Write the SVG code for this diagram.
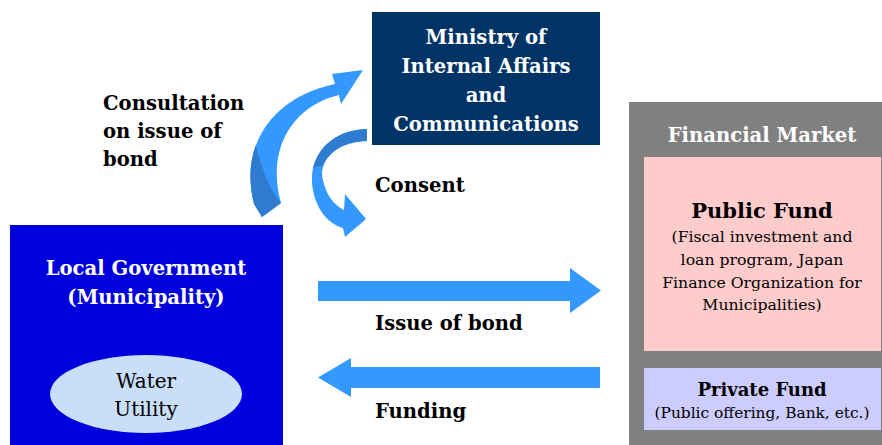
<svg xmlns="http://www.w3.org/2000/svg" width="882" height="445" viewBox="0 0 882 445">
<style>
text{font-family:"DejaVu Serif","Liberation Serif",serif;}
.b{font-weight:bold;font-size:19.6px;}
.w{fill:#ffffff;}
.k{fill:#000000;}
.c{text-anchor:middle;}
.r{font-size:15.7px;}
.arrow{fill:#3399ff;}
.dark{fill:#2e7bd0;}
</style>
<rect width="882" height="445" fill="#ffffff"/>
<g id="ministry">
<rect x="372" y="12" width="228" height="133" fill="#003366"/>
<text class="b w c" x="486" y="44">Ministry of</text>
<text class="b w c" x="486" y="73">Internal Affairs</text>
<text class="b w c" x="486" y="102">and</text>
<text class="b w c" x="486" y="131">Communications</text>
</g>
<g id="local-government">
<rect x="10" y="225" width="273" height="220" fill="#0000dd"/>
<text class="b w c" x="146" y="275">Local Government</text>
<text class="b w c" x="146" y="304">(Municipality)</text>
</g>
<g id="water-utility">
<ellipse cx="146" cy="394" rx="96" ry="39" fill="#c9def9"/>
<text class="k c" x="146" y="388" font-size="20">Water</text>
<text class="k c" x="146" y="416" font-size="20">Utility</text>
</g>
<g id="financial-market">
<rect x="629" y="102" width="253" height="343" fill="#808080"/>
<text class="b w c" x="762" y="142">Financial Market</text>
</g>
<g id="public-fund">
<rect x="644" y="157" width="237" height="194" fill="#ffcccc"/>
<text class="k c" x="762" y="218" font-size="21" font-weight="bold">Public Fund</text>
<text class="k c r" x="762" y="242">(Fiscal investment and</text>
<text class="k c r" x="762" y="265">loan program, Japan</text>
<text class="k c r" x="762" y="288">Finance Organization for</text>
<text class="k c r" x="762" y="310">Municipalities)</text>
</g>
<g id="private-fund">
<rect x="644" y="368" width="237" height="62" fill="#ccccff"/>
<text class="k c" x="762" y="396" font-size="18" font-weight="bold">Private Fund</text>
<text class="k c" x="762" y="418" font-size="15.4">(Public offering, Bank, etc.)</text>
</g>
<g id="connectors">
<path class="arrow" d="M262,217 L254,204 C240,150 268,98 335,84 L332,74 L363,70 L341,104 L339,95 C292,106 266,150 281,203 Z"/>
<path class="dark" d="M262,217 L254,204 C248,180 250,160 256,145 C262,170 270,190 281,203 Z"/>
<path class="arrow" d="M367,129 L367,141 C335,142 318,162 323,180 C326,195 334,205 344,210 L345,194 L366,219 L345,237 L343,228 C322,222 311,198 312,176 C314,148 336,130 367,129 Z"/>
<path class="dark" d="M367,129 L367,141 C345,141 330,150 323,165 L313,168 C320,145 338,130 367,129 Z"/>
<path class="arrow" d="M318,281 L570,281 L570,268 L601,290.5 L570,313 L570,301 L318,301 Z"/>
<path class="arrow" d="M600,367 L351,367 L351,358 L318,377.5 L351,397 L351,388 L600,388 Z"/>
</g>
<g id="labels">
<text class="b k" x="103" y="110">Consultation</text>
<text class="b k" x="103" y="138">on issue of</text>
<text class="b k" x="103" y="166">bond</text>
<text class="b k" x="375" y="192">Consent</text>
<text class="b k" x="375" y="330">Issue of bond</text>
<text class="b k" x="375" y="418">Funding</text>
</g>
</svg>
